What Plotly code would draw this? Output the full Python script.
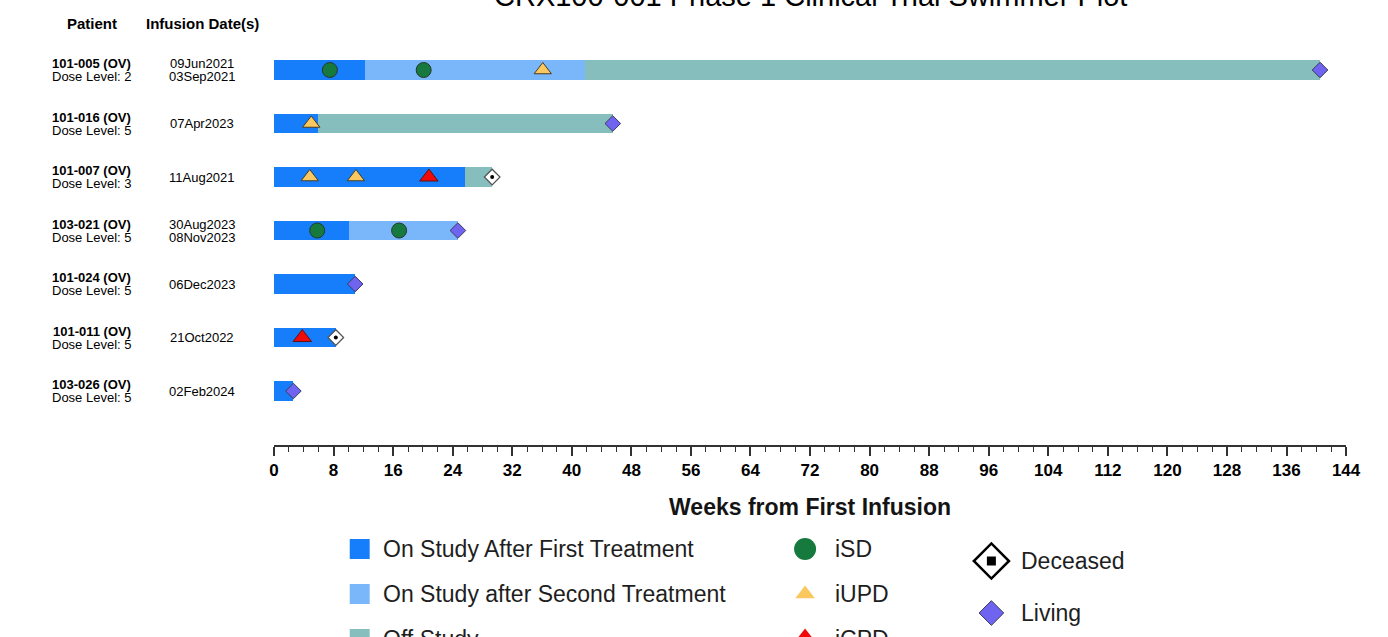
import plotly.graph_objects as go

# ---- data -------------------------------------------------------------
patients = ["101-005 (OV)", "101-016 (OV)", "101-007 (OV)", "103-021 (OV)",
            "101-024 (OV)", "101-011 (OV)", "103-026 (OV)"]
dose_levels = [2, 5, 3, 5, 5, 5, 5]
infusion_dates = [["09Jun2021", "03Sep2021"], ["07Apr2023"], ["11Aug2021"],
                  ["30Aug2023", "08Nov2023"], ["06Dec2023"], ["21Oct2022"],
                  ["02Feb2024"]]

# weeks from first infusion
first_tx_end = [12.2, 5.9, 25.7, 10.1, 10.9, 8.3, 2.6]
second_tx_end = [41.8, None, None, 24.7, None, None, None]
study_end = [140.5, 45.5, 29.3, 24.7, 10.9, 8.3, 2.6]
status = ["Living", "Living", "Deceased", "Living", "Living", "Deceased", "Living"]

isd_rows = [0, 0, 3, 3]
isd_weeks = [7.5, 20.1, 5.8, 16.8]
iupd_rows = [0, 1, 2, 2]
iupd_weeks = [36.1, 5.0, 4.8, 11.0]
icpd_rows = [2, 5]
icpd_weeks = [20.8, 3.8]

x_ticks = list(range(0, 145, 8))

# ---- styling ------------------------------------------------------------
FONT = "Arial, Liberation Sans, sans-serif"
C_FIRST = "rgb(22,126,250)"
C_SECOND = "rgb(122,182,250)"
C_OFF = "rgb(133,190,188)"
C_ISD = "rgb(22,122,62)"
C_IUPD = "rgb(250,200,95)"
C_ICPD = "rgb(240,10,10)"
C_LIVING = "rgb(110,100,240)"
W, H = 1388, 637
WR = 1373          # horizontal layout units across the page
BAR_W = 0.37

# horizontal anchor positions (layout units)
X_PATIENT, X_DATES = 87, 198
X_AXIS0, X_AXIS1 = 270, 1346
X_TITLE = 808
X_LEG1, X_LEG2, X_LEG3 = 356, 803, 990

rows = list(range(len(patients)))

fig = go.Figure()

# bar segments
first_base, first_len = [], []
second_y, second_base, second_len = [], [], []
off_y, off_base, off_len = [], [], []
for i in rows:
    first_base.append(0)
    first_len.append(first_tx_end[i])
    on_end = first_tx_end[i]
    if second_tx_end[i] is not None:
        second_y.append(i)
        second_base.append(first_tx_end[i])
        second_len.append(second_tx_end[i] - first_tx_end[i])
        on_end = second_tx_end[i]
    if study_end[i] > on_end + 0.05:
        off_y.append(i)
        off_base.append(on_end)
        off_len.append(study_end[i] - on_end)

for ys, bases, lens, col in [(rows, first_base, first_len, C_FIRST),
                             (second_y, second_base, second_len, C_SECOND),
                             (off_y, off_base, off_len, C_OFF)]:
    fig.add_trace(go.Bar(y=ys, x=lens, base=bases, orientation="h",
                         width=BAR_W, marker=dict(color=col, line=dict(width=0)),
                         showlegend=False, hoverinfo="skip"))

# response markers
fig.add_trace(go.Scatter(x=isd_weeks, y=isd_rows, mode="markers", showlegend=False,
                         marker=dict(symbol="circle", size=15, color=C_ISD,
                                     line=dict(color="rgb(40,55,45)", width=1))))
fig.add_trace(go.Scatter(x=iupd_weeks, y=iupd_rows, mode="markers", showlegend=False,
                         marker=dict(symbol="triangle-up", size=15, color=C_IUPD,
                                     line=dict(color="rgb(70,60,40)", width=1))))
fig.add_trace(go.Scatter(x=icpd_weeks, y=icpd_rows, mode="markers", showlegend=False,
                         marker=dict(symbol="triangle-up", size=16, color=C_ICPD,
                                     line=dict(color="rgb(90,20,20)", width=1))))

# end-of-follow-up status markers
liv_x = [study_end[i] for i in rows if status[i] == "Living"]
liv_y = [i for i in rows if status[i] == "Living"]
dec_x = [study_end[i] for i in rows if status[i] == "Deceased"]
dec_y = [i for i in rows if status[i] == "Deceased"]
fig.add_trace(go.Scatter(x=liv_x, y=liv_y, mode="markers", showlegend=False,
                         cliponaxis=False,
                         marker=dict(symbol="diamond", size=12, color=C_LIVING,
                                     line=dict(color="rgb(60,60,90)", width=1))))
fig.add_trace(go.Scatter(x=dec_x, y=dec_y, mode="markers", showlegend=False,
                         cliponaxis=False,
                         marker=dict(symbol="diamond", size=12, color="white",
                                     line=dict(color="rgb(80,80,80)", width=1.2))))
fig.add_trace(go.Scatter(x=dec_x, y=dec_y, mode="markers", showlegend=False,
                         cliponaxis=False,
                         marker=dict(symbol="circle", size=4, color="black")))

# ---- row labels ------------------------------------------------------------
ann = []
for i in rows:
    ann.append(dict(x=X_PATIENT / WR, y=i, xref="paper", yref="y", yshift=6.5,
                    xanchor="center", yanchor="middle",
                    text=f"<b>{patients[i]}</b>", showarrow=False,
                    font=dict(family=FONT, size=13, color="black")))
    ann.append(dict(x=X_PATIENT / WR, y=i, xref="paper", yref="y", yshift=-6.5,
                    xanchor="center", yanchor="middle",
                    text=f"Dose Level: {dose_levels[i]}", showarrow=False,
                    font=dict(family=FONT, size=13, color="black")))
    dates = infusion_dates[i]
    shifts = [0] if len(dates) == 1 else [6.5, -6.5]
    for d, s in zip(dates, shifts):
        ann.append(dict(x=X_DATES / WR, y=i, xref="paper", yref="y", yshift=s,
                        xanchor="center", yanchor="middle",
                        text=d, showarrow=False,
                        font=dict(family=FONT, size=13, color="black")))

# column headers
for label, px in [("Patient", X_PATIENT), ("Infusion Date(s)", X_DATES)]:
    ann.append(dict(x=px / WR, y=(H - 23) / H, xref="paper", yref="paper",
                    xanchor="center", yanchor="middle",
                    text=f"<b>{label}</b>", showarrow=False,
                    font=dict(family=FONT, size=15, color="black")))

# title
ann.append(dict(x=X_TITLE / WR, y=(H + 4) / H, xref="paper", yref="paper",
                xanchor="center", yanchor="middle",
                text="CRX100-001 Phase 1 Clinical Trial Swimmer Plot",
                showarrow=False, font=dict(family=FONT, size=29, color="black")))

# ---- legend (drawn on a full-figure overlay axis in layout units) -----------
Y_EDGE = H - 0.1
legend_box = [("On Study After First Treatment", C_FIRST, 549),
              ("On Study after Second Treatment", C_SECOND, 594),
              ("Off Study", C_OFF, 639)]
shapes = []
for label, col, py in legend_box:
    shapes.append(dict(type="rect", xref="x2", yref="y2", x0=X_LEG1 - 10,
                       x1=X_LEG1 + 10, y0=py - 10, y1=py + 10, fillcolor=col,
                       line=dict(width=0)))
    ann.append(dict(x=X_LEG1 + 21, y=min(py, Y_EDGE), yshift=-(py - min(py, Y_EDGE)),
                    xref="x2", yref="y2", xanchor="left", yanchor="middle",
                    text=label, showarrow=False,
                    font=dict(family=FONT, size=23, color="rgb(30,30,30)")))

legend_marks = [("iSD", "circle", C_ISD, 22, X_LEG2, 549, 0),
                ("iUPD", "triangle-up", C_IUPD, 17, X_LEG2, 594, 0),
                ("iCPD", "triangle-up", C_ICPD, 17, X_LEG2, 639, 0),
                ("Living", "diamond", C_LIVING, 19, X_LEG3, 613, 1)]
for label, sym, col, sz, px, py, lw in legend_marks:
    my = min(py, Y_EDGE)
    fig.add_trace(go.Scatter(x=[px], y=[my], xaxis="x2", yaxis="y2", mode="markers",
                             showlegend=False, cliponaxis=False, hoverinfo="skip",
                             marker=dict(symbol=sym, size=sz, color=col,
                                         line=dict(color="rgb(60,60,90)", width=lw))))
    ann.append(dict(x=px + 28, y=my, yshift=-(py - my), xref="x2", yref="y2",
                    xanchor="left", yanchor="middle",
                    text=label, showarrow=False,
                    font=dict(family=FONT, size=23, color="rgb(30,30,30)")))

fig.add_trace(go.Scatter(x=[X_LEG3], y=[561], xaxis="x2", yaxis="y2", mode="markers",
                         showlegend=False, cliponaxis=False, hoverinfo="skip",
                         marker=dict(symbol="diamond", size=27, color="white",
                                     line=dict(color="black", width=2.5))))
fig.add_trace(go.Scatter(x=[X_LEG3], y=[561], xaxis="x2", yaxis="y2", mode="markers",
                         showlegend=False, cliponaxis=False, hoverinfo="skip",
                         marker=dict(symbol="square", size=9, color="black")))
ann.append(dict(x=X_LEG3 + 28, y=561, xref="x2", yref="y2", xanchor="left",
                yanchor="middle", text="Deceased", showarrow=False,
                font=dict(family=FONT, size=23, color="rgb(30,30,30)")))

# ---- layout -----------------------------------------------------------------
fig.update_layout(
    width=W, height=H,
    margin=dict(l=0, r=0, t=0, b=0),
    paper_bgcolor="white", plot_bgcolor="rgba(0,0,0,0)",
    barmode="overlay", bargap=0,
    showlegend=False,
    annotations=ann, shapes=shapes,
    xaxis=dict(domain=[X_AXIS0 / WR, X_AXIS1 / WR], range=[0, 144],
               tickvals=x_ticks, ticks="outside", ticklen=9, tickwidth=1.5,
               tickcolor="rgb(50,50,50)",
               minor=dict(dtick=2, tick0=0, ticks="outside", ticklen=5,
                          tickwidth=1.2, tickcolor="rgb(50,50,50)", showgrid=False),
               showline=True, linecolor="rgb(50,50,50)", linewidth=2,
               showgrid=False, zeroline=False,
               tickfont=dict(family=FONT, size=17, color="black", weight="bold"),
               title=dict(text="<b>Weeks from First Infusion</b>", standoff=19,
                          font=dict(family=FONT, size=23, color="rgb(20,20,20)")),
               anchor="y"),
    yaxis=dict(domain=[(H - 445) / H, (H - 40) / H], range=[7.009, -0.561],
               showline=False, showgrid=False, zeroline=False,
               showticklabels=False, ticks="", anchor="x"),
    xaxis2=dict(domain=[0, 1], range=[0, WR], visible=False, anchor="y2",
                fixedrange=True),
    yaxis2=dict(domain=[0, 1], range=[H, 0], visible=False, anchor="x2",
                fixedrange=True),
)

fig.write_html("out.html")
